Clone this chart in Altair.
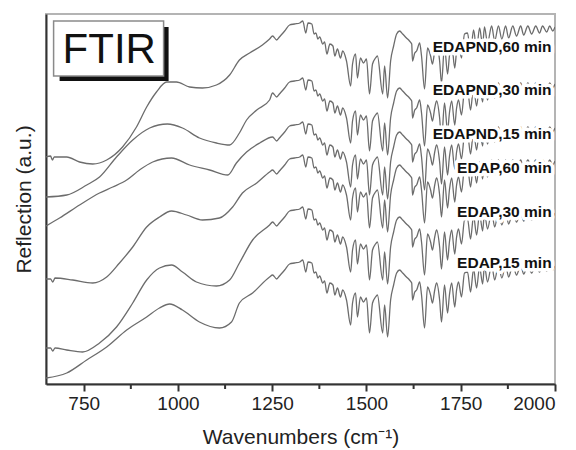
import altair as alt
import pandas as pd

# ---------------- data ----------------
series = ["EDAPND,60 min", "EDAPND,30 min", "EDAPND,15 min",
          "EDAP,60 min", "EDAP,30 min", "EDAP,15 min"]

# level of the 1330 cm-1 band of each trace (a.u.)
peak_1330 = [36.3, 30.6, 26.2, 22.9, 17.7, 12.4]

# low-wavenumber part of every trace (650-1250 cm-1)
low_wn_1 = [650, 662, 667, 672, 705, 739, 774, 811, 853, 890, 917, 943, 970, 996, 1031, 1065, 1102, 1137, 1163, 1190, 1224, 1243]
low_val_1 = [22.7, 22.8, 22.4, 22.7, 22.7, 22.2, 22.0, 22.4, 23.7, 25.7, 27.7, 29.2, 30.2, 30.2, 29.7, 29.6, 29.9, 30.9, 32.4, 33.1, 33.9, 34.5]

low_wn_2 = [650, 705, 758, 792, 837, 880, 925, 972, 1012, 1057, 1102, 1137, 1163, 1182, 1209, 1243]
low_val_2 = [18.7, 18.9, 19.9, 20.7, 22.7, 24.4, 25.6, 26.0, 25.6, 24.6, 24.1, 23.9, 25.1, 26.4, 27.4, 28.4]

low_wn_3 = [650, 686, 739, 792, 827, 864, 898, 933, 983, 1031, 1084, 1132, 1155, 1182, 1217]
low_val_3 = [15.8, 16.6, 17.9, 19.1, 19.7, 20.4, 21.4, 22.2, 22.6, 21.9, 21.4, 20.9, 22.1, 23.2, 24.1]

low_wn_4 = [650, 662, 668, 674, 721, 774, 811, 845, 880, 917, 951, 983, 1023, 1065, 1110, 1145, 1171, 1209, 1243]
low_val_4 = [10.5, 10.5, 10.2, 10.6, 10.4, 10.1, 10.7, 12.1, 13.7, 15.7, 16.7, 17.3, 16.9, 16.4, 16.6, 17.7, 19.1, 20.1, 21.2]

low_wn_5 = [650, 662, 668, 674, 705, 747, 792, 837, 880, 917, 951, 983, 1012, 1049, 1102, 1137, 1163, 1198, 1243]
low_val_5 = [3.6, 3.6, 3.3, 3.6, 3.4, 3.2, 4.1, 5.7, 8.1, 10.4, 11.6, 11.9, 11.2, 10.2, 9.8, 10.4, 12.1, 14.4, 15.9]

low_wn_6 = [650, 705, 758, 811, 864, 917, 951, 978, 1012, 1057, 1110, 1142, 1163, 1198, 1243]
low_val_6 = [0.6, 1.1, 2.4, 3.7, 5.4, 6.7, 7.6, 8.0, 7.4, 6.2, 5.6, 6.2, 8.1, 9.1, 10.7]

# fringe region (1250-2000 cm-1): drop below the 1330 cm-1 band level
fringe_wn = [1251, 1262, 1269, 1283, 1296, 1309, 1323, 1331, 1339, 1345,
             1355, 1361, 1366, 1371, 1376, 1384, 1389, 1395, 1403, 1411,
             1416, 1423, 1431, 1437, 1447, 1458, 1463, 1471, 1476, 1484,
             1492, 1500, 1508, 1516, 1524, 1529, 1543, 1548, 1556, 1564,
             1572, 1580, 1588, 1596, 1606, 1614, 1620, 1622, 1628, 1633,
             1641, 1646, 1654, 1662, 1670, 1675, 1681, 1686, 1694, 1699,
             1707, 1715, 1720, 1726, 1734, 1739, 1744, 1752, 1760, 1768,
             1776, 1784, 1792, 1800, 1808, 1813, 1821, 1832, 1840, 1850,
             1859, 1869, 1877, 1888, 1898, 1909, 1917, 1928, 1938, 1949,
             1959, 1967, 1978, 1986, 1994, 2000]
fringe_drop = [1.5, 1.9, 1.6, 1.0, 0.4, 0.3, 0.2, 0.0, 1.2, 0.2,
               0.3, 1.3, 1.2, 1.8, 1.6, 2.3, 2.1, 3.3, 2.3, 2.5,
               3.5, 2.8, 3.7, 3.0, 4.0, 6.5, 4.3, 3.3, 5.7, 3.7,
               4.2, 3.8, 7.3, 4.3, 3.7, 3.5, 7.3, 4.5, 7.7, 4.0,
               2.5, 1.3, 1.0, 1.3, 1.7, 2.0, 2.3, 4.0, 3.2, 3.0,
               2.2, 3.5, 6.8, 2.7, 3.5, 4.3, 3.0, 2.3, 4.0, 6.2,
               2.5, 5.3, 3.5, 2.3, 4.7, 3.0, 2.2, 3.7, 1.3, 1.2,
               3.2, 0.9, 2.8, 0.7, 2.4, 0.6, 2.2, 0.5, 2.0, 0.5,
               1.8, 0.5, 1.7, 0.5, 1.5, 0.5, 1.4, 0.5, 1.3, 0.5,
               1.2, 0.5, 1.1, 0.5, 1.0, 0.6]

label_wn = [1991] * 6
label_val = [33.2, 28.9, 24.5, 21.1, 16.7, 11.6]

major_ticks = [750, 1000, 1250, 1500, 1750, 2000]
minor_ticks = [875, 1125, 1375, 1625, 1875]

# ---------------- build table ----------------
lows = [(low_wn_1, low_val_1), (low_wn_2, low_val_2), (low_wn_3, low_val_3),
        (low_wn_4, low_val_4), (low_wn_5, low_val_5), (low_wn_6, low_val_6)]
rows = []
for i, s in enumerate(series):
    for w, v in zip(*lows[i]):
        rows.append({"series": s, "wn": w, "val": v})
    for w, d in zip(fringe_wn, fringe_drop):
        rows.append({"series": s, "wn": w, "val": round(peak_1330[i] - d, 2)})
df = pd.DataFrame(rows)
labels_df = pd.DataFrame({"series": series, "wn": label_wn, "val": label_val})
minor_df = pd.DataFrame({"wn": minor_ticks})

FONT = "Liberation Sans"
xscale = alt.Scale(domain=[650, 2000], nice=False, zero=False)
yscale = alt.Scale(domain=[0, 37], nice=False, zero=False)
xaxis = alt.Axis(values=major_ticks, title="Wavenumbers (cm⁻¹)", grid=False,
                 format="d", labelPadding=3, titlePadding=13)
yaxis = alt.Axis(title="Reflection (a.u.)", labels=False, ticks=False,
                 grid=False, titlePadding=12)

X = alt.X("wn:Q", scale=xscale, axis=xaxis)
Y = alt.Y("val:Q", scale=yscale, axis=yaxis)

lines = alt.Chart(df).mark_line(color="#6c6c6c", strokeWidth=1.3,
                                interpolate="monotone", clip=True).encode(
    x=X, y=Y, detail="series:N", order="wn:Q")

minor = alt.Chart(minor_df).mark_rule(color="#333333", strokeWidth=2).encode(
    x=X, y=alt.value(370), y2=alt.value(375))

halo = alt.Chart(labels_df).mark_text(
    align="right", baseline="alphabetic", font=FONT, fontSize=15.5,
    fontWeight="bold", color="white", stroke="white", strokeWidth=7,
    strokeJoin="round").encode(x=X, y=Y, text="series:N")

texts = alt.Chart(labels_df).mark_text(
    align="right", baseline="alphabetic", font=FONT, fontSize=15.5,
    fontWeight="bold", color="#111111").encode(x=X, y=Y, text="series:N")

one = alt.Data(values=[{"k": 1}])
shadow = alt.Chart(one).mark_rect(color="#111111").encode(
    x=alt.value(13.6), x2=alt.value(122.6), y=alt.value(13), y2=alt.value(67))
box = alt.Chart(one).mark_rect(fill="white", stroke="#8a8a8a", strokeWidth=1.5).encode(
    x=alt.value(7.6), x2=alt.value(117.6), y=alt.value(7), y2=alt.value(62))
ftir = alt.Chart(one).mark_text(text="FTIR", font=FONT, fontSize=42, align="left",
                                baseline="alphabetic", color="#111111").encode(
    x=alt.value(16.6), y=alt.value(49))

chart = alt.layer(lines, minor, halo, texts, shadow, box, ftir).properties(
    width=509, height=370,
    autosize=alt.AutoSizeParams(type="none"),
    padding={"left": 38, "top": 6, "right": 12, "bottom": 66},
).configure_view(
    stroke="#b4b4b4", strokeWidth=2
).configure_axis(
    domainColor="#333333", domainWidth=2, tickColor="#333333", tickWidth=2,
    tickSize=7, labelFont=FONT, labelFontSize=19, labelColor="#222222",
    titleFont=FONT, titleFontSize=21, titleFontWeight="normal",
    titleColor="#222222",
)

chart.save("out.html", embed_options={"renderer": "svg", "actions": False})
